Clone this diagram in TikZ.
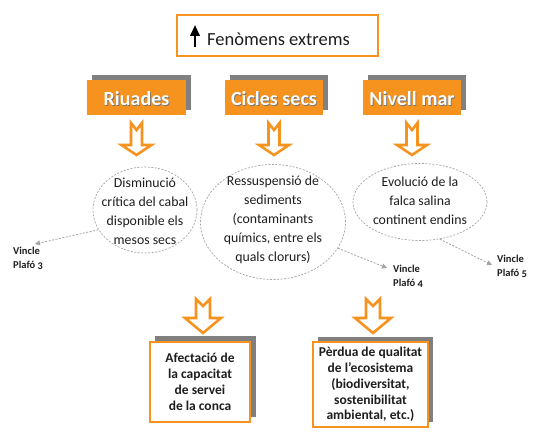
\documentclass[tikz,border=0pt]{standalone}
\usepackage{fontspec}
\setmainfont{Carlito}
\newfontfamily\vfont[Numbers=OldStyle]{Carlito}
\usetikzlibrary{shapes.geometric,arrows.meta}
\definecolor{org}{RGB}{246,146,30}
\definecolor{shad}{RGB}{128,128,128}
\definecolor{dgray}{RGB}{165,165,165}
\definecolor{txt}{RGB}{30,30,30}
\newcommand{\harrow}[6]{%
  \draw[harrowsty] ({#1-#3},#2) -- (#1,{#2+7}) -- ({#1+#3},#2) -- ({#1+#3},#5) -- ({#1+#4},#5) -- (#1,#6) -- ({#1-#4},#5) -- ({#1-#3},#5) -- cycle;}
\begin{document}
\begin{tikzpicture}[x=1pt,y=-1pt,
  harrowsty/.style={draw=org,line width=2.6pt,fill=white,line join=miter},
  titlebox/.style={draw=org,line width=1.6pt,fill=white,inner sep=0,minimum width=201pt,minimum height=41pt},
  shadrect/.style={fill=shad,draw=none,inner sep=0},
  orangebox/.style={fill=org,draw=none,inner sep=0,minimum width=99pt,minimum height=35pt,text=white,font=\fontsize{20}{22}\selectfont\bfseries},
  otxtshadow/.style={inner sep=0,text=black!55,font=\fontsize{20}{22}\selectfont\bfseries},
  ell/.style={ellipse,draw=dgray,dash pattern=on 2pt off 1.5pt,line width=0.7pt,inner sep=0},
  etext/.style={align=center,inner sep=0,text=txt,font=\fontsize{13.8}{19}\selectfont},
  vtext/.style={align=left,inner sep=0,anchor=north west,text=txt,font=\vfont\bfseries\fontsize{10.5}{14}\selectfont},
  link/.style={draw=dgray,dash pattern=on 2pt off 1.5pt,line width=0.8pt,-{Triangle[width=5pt,length=5pt]}},
  bbox/.style={draw=org,line width=1.8pt,fill=white,inner sep=0,align=center,text=txt,font=\fontsize{13.5}{15.8}\selectfont\bfseries},
]
\useasboundingbox (0,0) rectangle (547,438);
\fill[white] (0,0) rectangle (547,438);

% title
\node[titlebox] (title) at (277.5,35.5) {};
\node[anchor=base west,inner sep=0,text=txt,font=\fontsize{18.5}{20}\selectfont] (ttext) at (207,45.5) {Fenòmens extrems};
\coordinate (upb) at (195,47);
\coordinate (upt) at (195,25);
\draw[line width=2.2pt,-{Triangle[width=9.5pt,length=11pt]}] (upb) -- (upt);

% orange boxes
\node[shadrect,minimum width=99pt,minimum height=35pt] (riush) at (141.5,92.5) {};
\node[orangebox] (riu) at (136.5,97.5) {};
\node[otxtshadow] at (137.3,99.3) {Riuades};
\node[inner sep=0,text=white,font=\fontsize{20}{22}\selectfont\bfseries] (riut) at (136.5,98.5) {Riuades};

\node[shadrect,minimum width=98pt,minimum height=35pt] (cicsh) at (279,92.5) {};
\node[orangebox,minimum width=98pt] (cic) at (274,97.5) {};
\node[otxtshadow] at (274.8,99.3) {Cicles secs};
\node[inner sep=0,text=white,font=\fontsize{20}{22}\selectfont\bfseries] (cict) at (274,98.5) {Cicles secs};

\node[shadrect,minimum width=98pt,minimum height=35pt] (nivsh) at (417,92.5) {};
\node[orangebox,minimum width=98pt] (niv) at (412,97.5) {};
\node[otxtshadow] at (412.8,99.3) {Nivell mar};
\node[inner sep=0,text=white,font=\fontsize{20}{22}\selectfont\bfseries] (nivt) at (412,98.5) {Nivell mar};

% top hollow arrows
\harrow{136.5}{123}{5.5}{15}{145}{155}
\harrow{274}{123}{5.5}{15}{145}{155}
\harrow{412}{123}{5.5}{15}{145}{155}

% ellipses
\node[ell,minimum width=104pt,minimum height=86pt] (e1) at (145,210) {};
\node[etext] (t1) at (145,211) {Disminució\\crítica del cabal\\disponible els\\mesos secs};
\node[ell,minimum width=145pt,minimum height=115pt] (e2) at (273,222) {};
\node[etext] (t2) at (273,220) {Ressuspensió de\\sediments\\(contaminants\\químics, entre els\\quals clorurs)};
\node[ell,minimum width=134pt,minimum height=77pt] (e3) at (420,202) {};
\node[etext] (t3) at (420,201) {Evolució de la\\falca salina\\continent endins};

% links
\node[vtext] (v3) at (13,247) {Vincle\\Plafó 3};
\node[vtext] (v4) at (393,265) {Vincle\\Plafó 4};
\node[vtext] (v5) at (497,255) {Vincle\\Plafó 5};
\coordinate (a3) at (35,244);
\coordinate (a4) at (387,268);
\coordinate (a5) at (492,265);
\draw[link] (e1.203) -- (a3);
\draw[link] (e2.-22) -- (a4);
\draw[link] (e3.-62) -- (a5);

% bottom arrows
\harrow{203}{299}{7}{18}{318}{333}
\harrow{373}{299}{7}{18}{318}{333}

% bottom boxes
\node[shadrect,minimum width=101pt,minimum height=81pt] (b1sh) at (205.5,376.5) {};
\node[bbox,minimum width=100pt,minimum height=80pt] (b1) at (200,382) {Afectació de\\la capacitat\\de servei\\de la conca};
\node[shadrect,minimum width=115pt,minimum height=85pt] (b2sh) at (375.5,379.5) {};
\node[bbox,minimum width=115pt,minimum height=85pt] (b2) at (370.5,384.5) {Pèrdua de qualitat\\de l’ecosistema\\(biodiversitat,\\sostenibilitat\\ambiental, etc.)};
\end{tikzpicture}
\end{document}
